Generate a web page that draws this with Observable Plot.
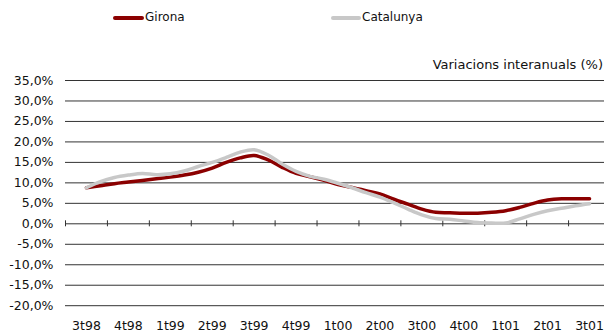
<!DOCTYPE html>
<html>
<head>
<meta charset="utf-8">
<script src="https://cdn.jsdelivr.net/npm/d3@7"></script>
<script src="https://cdn.jsdelivr.net/npm/@observablehq/plot@0.6"></script>
<style>
  html, body { margin: 0; padding: 0; background: #fff; }
  body { width: 604px; height: 336px; overflow: hidden; font-family: "DejaVu Sans", sans-serif; color: #111; position: relative; }
  #head { position: relative; width: 604px; height: 56px; font-size: 12px; }
  .sw { position: absolute; top: 16px; height: 4px; border-radius: 2px; }
  .lt { position: absolute; top: 10px; line-height: 14px; }
  #sub { position: absolute; right: 1px; top: 57px; line-height: 15px; font-size: 13px; z-index: 2; }
  #chart svg { display: block; }
</style>
</head>
<body>
<div id="head">
  <div class="sw" style="left:113px;width:31px;background:#8b0000"></div>
  <div class="lt" style="left:145px">Girona</div>
  <div class="sw" style="left:331px;width:30px;background:#c8c8c8"></div>
  <div class="lt" style="left:362px">Catalunya</div>
</div>
<div id="sub">Variacions interanuals (%)</div>
<div id="chart"></div>
<script>
const quarters = ["3t98","4t98","1t99","2t99","3t99","4t99","1t00","2t00","3t00","4t00","1t01","2t01","3t01"];
const yTicks = [-20,-15,-10,-5,0,5,10,15,20,25,30,35];
// monthly readings (three per quarter), 3t98 .. 3t01
const girona = [8.8,9.3,9.8,10.2,10.6,11.0,11.4,11.9,12.6,13.6,15.0,16.1,16.7,15.6,13.8,12.3,11.5,10.6,9.6,8.9,8.1,7.3,6.0,4.8,3.6,2.8,2.7,2.6,2.6,2.8,3.2,4.0,5.0,5.8,6.1,6.1,6.1];
const catalunya = [8.8,10.3,11.3,11.9,12.3,12.0,12.2,12.9,14.0,15.0,16.2,17.5,18.1,16.8,14.6,12.8,11.6,10.9,9.9,8.8,7.6,6.5,5.1,3.6,2.2,1.3,1.1,0.7,0.3,0.2,0.2,1.2,2.3,3.2,3.8,4.4,4.9];

const gRows = girona.map((v, k) => ({t: k / 3, v}));
const cRows = catalunya.map((v, k) => ({t: k / 3, v}));
const bounds = d3.range(quarters.length + 1).map(i => i - 0.5);

const chart = Plot.plot({
  width: 604,
  height: 280,
  marginLeft: 65,
  marginRight: -6,
  marginTop: 24,
  marginBottom: 30.8,
  style: {fontFamily: "DejaVu Sans", fontSize: "12.5px", color: "#111", background: "transparent", overflow: "hidden"},
  x: {domain: [-0.5, quarters.length - 0.5], ticks: d3.range(quarters.length), tickFormat: i => quarters[i], tickSize: 0, tickPadding: 15, label: null},
  y: {domain: [-20, 35], ticks: yTicks, tickFormat: d => d.toFixed(1).replace(".", ",") + "%", tickSize: 0, tickPadding: 12, label: null},
  marks: [
    Plot.ruleY(yTicks, {stroke: "#333", strokeWidth: 1}),
    Plot.ruleX(bounds, {y1: 0, y2: 0, insetTop: -3, insetBottom: -3, stroke: "#333", strokeWidth: 1}),
    Plot.line(gRows, {x: "t", y: "v", stroke: "#8b0000", strokeWidth: 3.5, curve: "catmull-rom"}),
    Plot.line(cRows, {x: "t", y: "v", stroke: "#c8c8c8", strokeWidth: 3.5, curve: "catmull-rom"})
  ]
});
document.getElementById("chart").appendChild(chart);
</script>
</body>
</html>
